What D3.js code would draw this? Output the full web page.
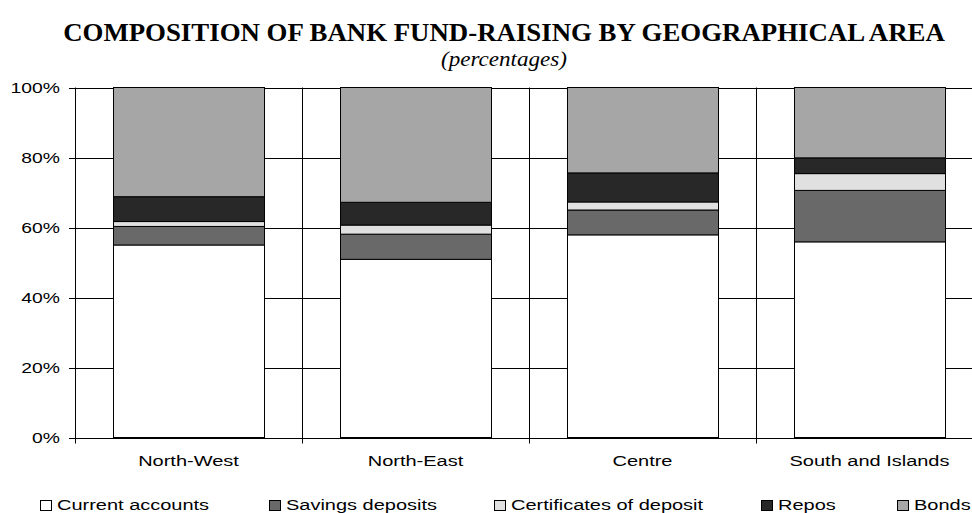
<!DOCTYPE html>
<html>
<head>
<meta charset="utf-8">
<script src="https://cdn.jsdelivr.net/npm/d3@7"></script>
<style>
  html, body { margin: 0; padding: 0; background: #fff; }
  svg { display: block; }
</style>
</head>
<body>
<div id="chart"></div>
<script>
// ---- Data ----
const categories = ["North-West", "North-East", "Centre", "South and Islands"];
const seriesNames = ["Current accounts", "Savings deposits", "Certificates of deposit", "Repos", "Bonds"];
const currentAccounts = [55.0, 50.9, 57.9, 55.9];
const savingsDeposits = [5.3, 7.2, 7.1, 14.7];
const certificatesOfDeposit = [1.4, 2.6, 2.3, 4.8];
const repos = [7.1, 6.5, 8.3, 4.5];
const bonds = [31.2, 32.8, 24.4, 20.1];
const yTicks = [0, 20, 40, 60, 80, 100];
const titleText = "COMPOSITION OF BANK FUND-RAISING BY GEOGRAPHICAL AREA";
const subtitleText = "(percentages)";

// ---- Layout ----
const W = 972, H = 513;
const SX = 4 / 3; // horizontal stretch of the original rendering
const colors = ["#ffffff", "#696969", "#e0e0e0", "#282828", "#a6a6a6"];
const legendX = [40, 269, 494, 761, 897];

const svg = d3.select("#chart").append("svg").attr("width", W).attr("height", H);

const seriesValues = [currentAccounts, savingsDeposits, certificatesOfDeposit, repos, bonds];
const rows = categories.map((c, i) => {
  const r = { category: c };
  seriesNames.forEach((s, j) => r[s] = seriesValues[j][i]);
  return r;
});
const stacked = d3.stack().keys(seriesNames)(rows);

const x = d3.scaleBand().domain(categories).range([75, 983]).paddingInner(1 / 3).paddingOuter(1 / 6);
const y = d3.scaleLinear().domain([0, 100]).range([437.5, 87.5]);
const step = x.step();

function stretchedText(g, tx, ty, txt, opts) {
  const t = g.append("text")
    .attr("text-anchor", opts.anchor || "start")
    .attr("font-family", opts.family || "'Liberation Sans', Arial, sans-serif")
    .attr("font-size", opts.size || 15)
    .attr("font-weight", opts.weight || "normal")
    .attr("font-style", opts.style || "normal")
    .attr("fill", "#000")
    .text(txt);
  let sx = opts.sx || SX;
  if (opts.fitWidth) {
    const w = t.node().getComputedTextLength();
    if (w > 0) sx = opts.fitWidth / w;
  }
  t.attr("transform", `translate(${tx},${ty}) scale(${sx},1)`);
  return t;
}

// Title
stretchedText(svg, 504, 41, titleText, { anchor: "middle", family: "'Liberation Serif', 'Times New Roman', serif", size: 25, weight: "bold", fitWidth: 882 });
stretchedText(svg, 504, 66, subtitleText, { anchor: "middle", family: "'Liberation Serif', 'Times New Roman', serif", size: 22, style: "italic", fitWidth: 126 });

const plot = svg.append("g");

// Horizontal gridlines
plot.selectAll("line.hgrid").data(yTicks).enter().append("line")
  .attr("class", "hgrid")
  .attr("x1", 69).attr("x2", W)
  .attr("y1", d => Math.round(y(d)) + 0.5).attr("y2", d => Math.round(y(d)) + 0.5)
  .attr("stroke", "#000").attr("stroke-width", 1);

// Vertical separators at category boundaries
const boundaries = categories.map((c, i) => x.range()[0] + i * step);
plot.selectAll("line.vgrid").data(boundaries).enter().append("line")
  .attr("class", "vgrid")
  .attr("x1", d => Math.round(d) + 0.5).attr("x2", d => Math.round(d) + 0.5)
  .attr("y1", y(100)).attr("y2", y(0) + 6)
  .attr("stroke", "#000").attr("stroke-width", 1);

// Bars
plot.selectAll("g.series").data(stacked).enter().append("g")
  .attr("class", "series")
  .attr("fill", (d, i) => colors[i])
  .selectAll("rect").data(d => d).enter().append("rect")
  .attr("x", d => Math.round(x(d.data.category)) + 0.5)
  .attr("width", Math.round(x.bandwidth()))
  .attr("y", d => y(d[1]))
  .attr("height", d => y(d[0]) - y(d[1]))
  .attr("stroke", "#000").attr("stroke-width", 1);

// Y tick labels
yTicks.forEach(t => {
  stretchedText(svg, 60, y(t) + 5, t + "%", { anchor: "end", size: 14.5 });
});

// Category labels
categories.forEach(c => {
  stretchedText(svg, x(c) + x.bandwidth() / 2, 466, c, { anchor: "middle", size: 15 });
});

// Legend
seriesNames.forEach((s, i) => {
  svg.append("rect")
    .attr("x", legendX[i] + 0.5).attr("y", 500.5)
    .attr("width", 11).attr("height", 10)
    .attr("fill", colors[i]).attr("stroke", "#000").attr("stroke-width", 1);
  stretchedText(svg, legendX[i] + 17, 510, s, { size: 15 });
});
</script>
</body>
</html>
